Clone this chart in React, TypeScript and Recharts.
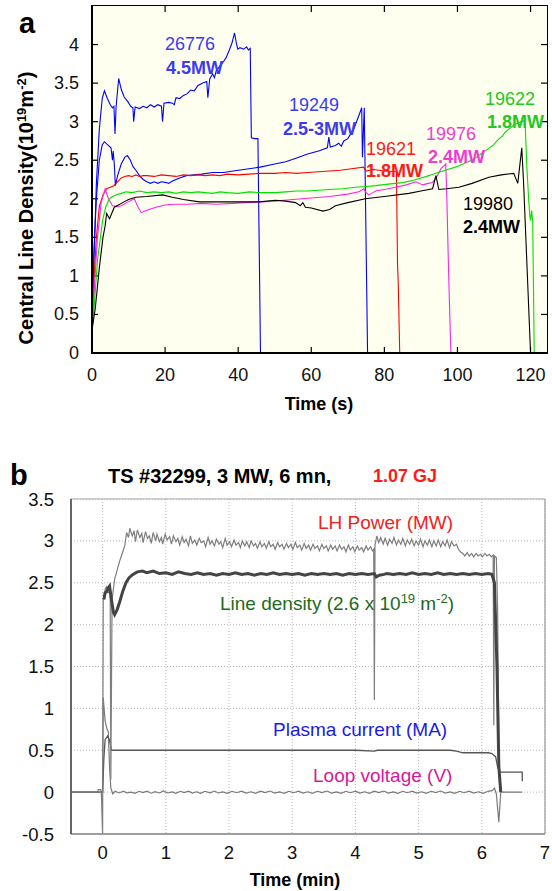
import React from 'react';
import { LineChart, Line, XAxis, YAxis, CartesianGrid, ReferenceLine } from 'recharts';

const FONT = 'Liberation Sans, Arial, Helvetica, sans-serif';

// ---------- Panel a: central line density (10^19 m^-2) vs time (s) ----------
const aXTicks = [0, 20, 40, 60, 80, 100, 120];
const aYTicks = [0, 0.5, 1, 1.5, 2, 2.5, 3, 3.5, 4];
const aXDomain: [number, number] = [0, 124.5];
const aYDomain: [number, number] = [0, 4.5];

const shot26776: [number, number][] = [
  [0, 0.3], [0.4, 1.0], [1.2, 2.2], [2.0, 2.9], [2.8, 3.3], [3.4, 3.4], [4.2, 3.3], [5.0, 3.22], [5.6, 3.18],
  [6.0, 3.2], [6.3, 2.84], [6.6, 3.2], [7.3, 3.56], [8.0, 3.42], [8.8, 3.32], [9.8, 3.26], [10.6, 3.2],
  [11.2, 3.18], [11.4, 3.0], [11.8, 3.19], [13, 3.17], [14, 3.2], [15, 3.18], [16, 3.22], [17, 3.19],
  [18, 3.22], [19, 3.2], [19.3, 3.0], [19.7, 3.24], [21, 3.25], [22, 3.24], [22.5, 3.22], [23, 3.31],
  [24, 3.3], [25, 3.34], [26, 3.36], [27, 3.41], [28, 3.4], [29, 3.47], [30.3, 3.5], [31.4, 3.52],
  [31.7, 3.31], [32.2, 3.55], [33, 3.62], [33.5, 3.57], [34, 3.66], [35, 3.72], [36, 3.78], [36.7, 3.83],
  [37.5, 3.92], [38.3, 4.02], [39, 4.15], [39.5, 4.02], [39.9, 3.94], [40.5, 3.96], [41.5, 3.94],
  [42.3, 3.97], [42.8, 3.93], [43.3, 3.95], [43.6, 2.79], [44.5, 2.78], [45.4, 2.78], [46.1, 0], [75, 0],
];

const shot19249: [number, number][] = [
  [0, 0.2], [0.5, 1.3], [1.2, 2.0], [2.0, 2.5], [2.8, 2.7], [3.4, 2.74], [4.3, 2.7], [5.2, 2.66], [5.6, 2.5],
  [5.8, 2.62], [6.1, 2.45], [6.4, 2.17], [7.0, 2.3], [8.0, 2.45], [9.0, 2.54], [9.7, 2.56], [10.5, 2.5],
  [11.2, 2.42], [12, 2.37], [13, 2.3], [14, 2.25], [15, 2.22], [16, 2.2], [17, 2.22], [18, 2.2], [19, 2.22],
  [20.3, 2.21], [21, 2.2], [22, 2.23], [24, 2.27], [25.8, 2.3], [28, 2.31], [30, 2.32], [33, 2.34],
  [36, 2.34], [40, 2.37], [43, 2.39], [46, 2.41], [50, 2.45], [53, 2.48], [56, 2.53], [59, 2.58],
  [62, 2.62], [64.4, 2.66], [64.8, 2.8], [65.2, 2.67], [66.6, 2.69], [67.5, 2.72], [68.2, 2.68],
  [68.9, 2.75], [70, 2.78], [71.6, 2.9], [72.8, 3.05], [73.8, 3.18], [74.0, 2.54], [74.5, 3.18],
  [75.4, 0], [84, 0],
];

const shot19621: [number, number][] = [
  [0, 0.3], [0.5, 0.9], [1.2, 1.5], [2.0, 1.9], [3.0, 2.05], [4.0, 2.13], [5.0, 2.15], [6.0, 2.17],
  [7.0, 2.22], [8.0, 2.27], [9, 2.29], [10, 2.3], [11, 2.29], [12, 2.31], [13, 2.29], [14, 2.3], [15, 2.3],
  [17, 2.29], [19, 2.31], [21, 2.3], [23, 2.29], [25, 2.31], [27, 2.3], [29, 2.31], [31, 2.3], [33, 2.31],
  [35, 2.3], [37, 2.32], [40, 2.31], [43, 2.32], [46, 2.33], [50, 2.33], [53, 2.34], [56, 2.33],
  [59, 2.34], [62, 2.35], [65, 2.36], [68, 2.37], [71, 2.39], [74.3, 2.41], [75, 2.36], [77, 2.38],
  [80, 2.36], [83.3, 2.35], [83.6, 1.16], [83.8, 0.9], [84.2, 0], [120, 0],
];

const shot19976: [number, number][] = [
  [0, 0.2], [0.7, 0.9], [1.5, 1.5], [2.5, 1.95], [3.6, 2.13], [4.5, 2.0], [5.6, 1.91], [7, 1.9], [8, 1.91],
  [9.5, 1.95], [11.6, 2.0], [12.5, 1.9], [13.5, 1.82], [15, 1.85], [17.5, 1.89], [20, 1.92], [22, 1.93],
  [26, 1.93], [30, 1.94], [34, 1.93], [38.5, 1.94], [42, 1.95], [46, 1.96], [50, 1.97], [55, 1.99],
  [60, 2.01], [65, 2.03], [70, 2.06], [73, 2.09], [74.4, 2.13], [75, 2.08], [75.7, 2.05], [76.5, 2.07],
  [77.6, 2.1], [80, 2.12], [83, 2.15], [86, 2.18], [88.6, 2.22], [90.5, 2.18], [92, 2.2], [93.2, 2.21],
  [94.5, 2.3], [95.5, 2.39], [96.8, 2.45], [97.1, 2.0], [97.6, 1.0], [98.2, 0], [120, 0],
];

const shot19622: [number, number][] = [
  [0, 0.3], [0.6, 0.6], [1.5, 1.2], [2.9, 1.72], [3.8, 1.9], [4.8, 2.0], [5.6, 2.03], [6.6, 2.05], [8, 2.07],
  [9.3, 2.09], [11, 2.08], [13, 2.1], [15, 2.08], [17, 2.09], [19, 2.08], [21, 2.09], [23, 2.07],
  [25, 2.09], [27, 2.08], [29, 2.09], [31, 2.08], [33, 2.07], [35, 2.09], [37, 2.08], [40, 2.07],
  [43, 2.09], [46, 2.08], [50, 2.08], [53, 2.09], [56, 2.1], [59, 2.1], [62, 2.11], [65, 2.12],
  [68.6, 2.13], [72, 2.15], [75, 2.16], [77.6, 2.17], [81, 2.19], [85, 2.21], [88, 2.24], [90, 2.27],
  [92.2, 2.3], [94, 2.33], [96, 2.36], [98, 2.39], [100, 2.42], [101.5, 2.45], [103, 2.48], [105, 2.53],
  [107, 2.6], [108.5, 2.65], [109.7, 2.69], [111, 2.76], [112.4, 2.82], [113, 2.86], [114, 2.9],
  [115, 2.94], [116, 2.97], [117, 2.99], [118, 3.01], [118.5, 3.0], [119, 2.4], [119.5, 1.98],
  [119.8, 1.78], [120, 1.72], [120.3, 1.85], [120.6, 1.7], [121, 0], [124, 0],
];

const shot19980: [number, number][] = [
  [0, 0.3], [0.9, 0.58], [2, 1.1], [3, 1.5], [3.6, 1.65], [4, 1.81], [4.8, 1.74], [6.1, 1.89], [8.4, 1.95],
  [10, 1.99], [12, 2.02], [15, 2.03], [19.3, 2.05], [22, 2.02], [25, 1.99], [29.4, 1.96], [35, 1.96],
  [40, 1.96], [45.8, 1.96], [50.2, 1.98], [53, 1.97], [55.7, 1.95], [57, 1.91], [57.7, 1.95], [58.4, 1.89],
  [60, 1.88], [63.2, 1.84], [65, 1.86], [66.6, 1.91], [70, 1.95], [74.8, 2.0], [80, 2.03], [86.7, 2.07],
  [90, 2.1], [93.2, 2.13], [94.1, 2.3], [94.9, 2.12], [97, 2.13], [100.4, 2.15], [104, 2.2],
  [108.6, 2.28], [112, 2.31], [115.4, 2.33], [116.5, 2.2], [117.6, 2.66], [118.1, 2.2], [120, 0], [124, 0],
];

// ---------- Panel b: TS #32299 traces vs time (min) ----------
const bXTicks = [0, 1, 2, 3, 4, 5, 6, 7];
const bYTicks = [-0.5, 0, 0.5, 1, 1.5, 2, 2.5, 3, 3.5];
const bXDomain: [number, number] = [-0.5, 7];
const bYDomain: [number, number] = [-0.5, 3.5];

const lhPower: [number, number][] = [
  [-0.5, 0], [-0.02, 0], [0, -0.5], [0.01, 2.3], [0.04, 2.42], [0.06, 2.45], [0.09, 2.38], [0.12, 2.4],
  [0.13, 0.15], [0.15, 2.3], [0.19, 2.54], [0.23, 2.65], [0.27, 2.76], [0.31, 2.85], [0.35, 2.94],
  [0.38, 3.1], [0.41, 3.04], [0.43, 3.15], [0.47, 3.06], [0.5, 3.12], [0.52, 2.99], [0.55, 3.13], [0.59, 3.04],
  [0.62, 3.09], [0.64, 2.98], [0.68, 3.11], [0.71, 3.03], [0.74, 3.06], [0.77, 2.97], [0.8, 3.1], [0.84, 3.0],
  [0.86, 3.08], [0.9, 2.99], [0.93, 3.04], [0.95, 2.96], [0.99, 3.08], [1.02, 3.01], [1.06, 3.05],
  [1.09, 2.96], [1.12, 3.06], [1.16, 2.99], [1.19, 3.03], [1.22, 2.95], [1.26, 3.05], [1.29, 2.98],
  [1.32, 3.02], [1.36, 2.94], [1.39, 3.06], [1.42, 2.97], [1.46, 3.01], [1.49, 2.95], [1.53, 3.03],
  [1.56, 2.98], [1.6, 3.0], [1.63, 2.93], [1.67, 3.04], [1.7, 2.96], [1.73, 3.0], [1.77, 2.94],
  [1.8, 3.02], [1.84, 2.96], [1.87, 2.99], [1.9, 2.92], [1.94, 3.03], [1.97, 2.95], [2.01, 2.99],
  [2.04, 2.93], [2.08, 3.01], [2.11, 2.95], [2.15, 2.98], [2.18, 2.92], [2.21, 3.0], [2.25, 2.94],
  [2.28, 2.99], [2.32, 2.92], [2.35, 3.0], [2.39, 2.94], [2.42, 2.97], [2.45, 2.91], [2.49, 2.99],
  [2.52, 2.93], [2.56, 2.97], [2.59, 2.91], [2.63, 2.99], [2.66, 2.93], [2.7, 2.96], [2.73, 2.9],
  [2.77, 2.98], [2.8, 2.93], [2.84, 2.96], [2.87, 2.9], [2.91, 2.97], [2.94, 2.92], [2.98, 2.96],
  [3.01, 2.9], [3.05, 2.98], [3.08, 2.92], [3.12, 2.95], [3.15, 2.89], [3.19, 2.97], [3.22, 2.91],
  [3.26, 2.95], [3.29, 2.89], [3.33, 2.96], [3.36, 2.91], [3.4, 2.94], [3.43, 2.88], [3.47, 2.96],
  [3.5, 2.91], [3.54, 2.94], [3.57, 2.88], [3.61, 2.95], [3.64, 2.9], [3.68, 2.94], [3.71, 2.88],
  [3.75, 2.95], [3.78, 2.9], [3.82, 2.93], [3.85, 2.87], [3.89, 2.95], [3.92, 2.89], [3.96, 2.93],
  [3.99, 2.87], [4.03, 2.94], [4.06, 2.89], [4.1, 2.92], [4.13, 2.87], [4.17, 2.94], [4.2, 2.89],
  [4.24, 2.93], [4.27, 2.88], [4.29, 2.9], [4.3, 1.1], [4.31, 2.95], [4.34, 3.06], [4.37, 2.98],
  [4.4, 3.04], [4.44, 2.96], [4.47, 3.03], [4.51, 2.95], [4.54, 3.02], [4.58, 2.97], [4.61, 3.04],
  [4.65, 2.95], [4.68, 3.01], [4.72, 2.96], [4.75, 3.03], [4.79, 2.94], [4.82, 3.01], [4.86, 2.96],
  [4.89, 3.02], [4.93, 2.94], [4.96, 3.0], [5.0, 2.95], [5.03, 3.02], [5.07, 2.93], [5.1, 3.0],
  [5.14, 2.95], [5.17, 3.01], [5.21, 2.93], [5.24, 3.0], [5.28, 2.94], [5.31, 3.01], [5.35, 2.93],
  [5.38, 2.99], [5.42, 2.94], [5.45, 3.01], [5.49, 2.92], [5.52, 2.99], [5.56, 2.94], [5.6, 2.96],
  [5.63, 2.9], [5.66, 2.87], [5.7, 2.85], [5.73, 2.82], [5.77, 2.86], [5.8, 2.82], [5.84, 2.85],
  [5.87, 2.81], [5.91, 2.85], [5.94, 2.82], [5.98, 2.84], [6.01, 2.81], [6.05, 2.85], [6.08, 2.82],
  [6.12, 2.84], [6.15, 2.81], [6.18, 2.83], [6.19, 0.8], [6.2, 2.82], [6.23, 2.8], [6.25, 2.2],
  [6.27, 0.5], [6.29, 0],
];

const lineDensity: [number, number][] = [
  [0.02, 2.3], [0.04, 2.38], [0.06, 2.39], [0.09, 2.44], [0.11, 2.46], [0.14, 2.3], [0.17, 2.15],
  [0.19, 2.12], [0.23, 2.18], [0.27, 2.27], [0.32, 2.4], [0.37, 2.5], [0.42, 2.56], [0.48, 2.6],
  [0.55, 2.63], [0.63, 2.64], [0.7, 2.62], [0.8, 2.64], [0.9, 2.61], [1.0, 2.62], [1.1, 2.6], [1.2, 2.63],
  [1.3, 2.61], [1.4, 2.6], [1.5, 2.62], [1.6, 2.6], [1.7, 2.61], [1.8, 2.59], [1.9, 2.61], [2.0, 2.6],
  [2.1, 2.62], [2.2, 2.6], [2.3, 2.61], [2.4, 2.59], [2.5, 2.61], [2.6, 2.6], [2.7, 2.62], [2.8, 2.6],
  [2.9, 2.61], [3.0, 2.6], [3.1, 2.61], [3.2, 2.59], [3.3, 2.61], [3.4, 2.6], [3.5, 2.61], [3.6, 2.6],
  [3.7, 2.61], [3.8, 2.59], [3.9, 2.61], [4.0, 2.6], [4.1, 2.61], [4.2, 2.6], [4.3, 2.61], [4.33, 2.57],
  [4.38, 2.59], [4.45, 2.6], [4.5, 2.61], [4.6, 2.6], [4.7, 2.61], [4.8, 2.6], [4.9, 2.62], [5.0, 2.6],
  [5.1, 2.61], [5.2, 2.6], [5.3, 2.62], [5.4, 2.6], [5.5, 2.61], [5.6, 2.6], [5.7, 2.61], [5.8, 2.6],
  [5.9, 2.61], [6.0, 2.6], [6.1, 2.61], [6.16, 2.6], [6.2, 2.5], [6.24, 1.5], [6.27, 0.3], [6.3, 0],
];

const plasmaCurrent: [number, number][] = [
  [-0.5, 0], [0, 0], [0.02, 0.4], [0.04, 0.63], [0.08, 0.67], [0.11, 0.62], [0.14, 0.5], [0.5, 0.5],
  [1, 0.5], [2, 0.5], [3, 0.5], [4, 0.5], [4.3, 0.49], [4.35, 0.5], [5, 0.5], [5.5, 0.5], [5.6, 0.49],
  [5.7, 0.47], [6.1, 0.47], [6.16, 0.46], [6.22, 0.42], [6.25, 0.3], [6.29, 0.24], [6.64, 0.24], [6.64, 0.13],
];

const loopVoltage: [number, number][] = [
  [-0.5, 0], [-0.08, 0], [-0.07, 0.03], [-0.03, 0.03], [-0.02, 0], [0, 0], [0.01, 1.13], [0.04, 0.85],
  [0.07, 0.75], [0.09, 0.72], [0.11, 0.3], [0.13, 0.05], [0.16, -0.02], [0.2, 0.01], [0.26, -0.01],
  [0.33, 0.012], [0.38, -0.008], [0.45, 0.0], [0.51, -0.014], [0.58, 0.01], [0.64, -0.006], [0.7, 0.012],
  [0.77, -0.013], [0.83, 0.006], [0.9, -0.01], [0.96, 0.014], [1.03, -0.01], [1.1, 0.002], [1.16, -0.014],
  [1.23, 0.01], [1.29, -0.006], [1.36, 0.012], [1.42, -0.011], [1.49, 0.004], [1.55, -0.014], [1.62, 0.01],
  [1.7, -0.008], [1.77, 0.013], [1.83, -0.01], [1.9, 0.003], [1.97, -0.015], [2.05, 0.01], [2.12, -0.007],
  [2.2, 0.012], [2.27, -0.012], [2.35, 0.004], [2.42, -0.014], [2.5, 0.011], [2.57, -0.006], [2.65, 0.013],
  [2.72, -0.011], [2.8, 0.003], [2.87, -0.015], [2.95, 0.01], [3.02, -0.007], [3.1, 0.012], [3.17, -0.012],
  [3.25, 0.004], [3.32, -0.014], [3.4, 0.01], [3.47, -0.006], [3.55, 0.013], [3.62, -0.011], [3.7, 0.003],
  [3.77, -0.015], [3.85, 0.01], [3.92, -0.007], [4.0, 0.012], [4.07, -0.012], [4.15, 0.004], [4.22, -0.014],
  [4.3, 0.011], [4.37, -0.006], [4.45, 0.013], [4.52, -0.011], [4.6, 0.003], [4.67, -0.015], [4.75, 0.01],
  [4.82, -0.007], [4.9, 0.012], [4.97, -0.012], [5.05, 0.004], [5.12, -0.014], [5.2, 0.01], [5.27, -0.006],
  [5.35, 0.013], [5.42, -0.011], [5.5, 0.003], [5.57, -0.015], [5.65, 0.01], [5.72, -0.007], [5.8, 0.012],
  [5.87, -0.012], [5.95, 0.004], [6.02, -0.014], [6.1, 0.01], [6.17, 0.02], [6.2, 0.05], [6.23, -0.02],
  [6.27, -0.36], [6.3, 0], [6.64, 0],
];

const toPts = (arr: [number, number][]) => arr.map(([t, v]) => ({ t, v }));

// panel a plot box (page pixels) — used for the background/frame drawn behind the chart
const A_BOX = { left: 92, top: 6, width: 455, height: 347 };
const aPx = (t: number) => A_BOX.left + ((t - aXDomain[0]) / (aXDomain[1] - aXDomain[0])) * A_BOX.width;
const aPy = (v: number) => A_BOX.top + A_BOX.height - ((v - aYDomain[0]) / (aYDomain[1] - aYDomain[0])) * A_BOX.height;

// ---------- tick renderers ----------
const ATickLeft = (p: any) => (
  <text x={p.x - 13} y={p.y} dy={6} textAnchor="end" fontSize={18} fontFamily={FONT} fill="#111">{p.payload.value}</text>
);
const ATickBottom = (p: any) => (
  <text x={p.x} y={p.y + 28} textAnchor="middle" fontSize={18} fontFamily={FONT} fill="#111">{p.payload.value}</text>
);
const BTickLeft = (p: any) => (
  <text x={p.x - 17} y={p.y} dy={6.5} textAnchor="end" fontSize={18.5} fontFamily={FONT} fill="#111">{p.payload.value}</text>
);
const BTickBottom = (p: any) => (
  <text x={p.x} y={p.y + 25} textAnchor="middle" fontSize={18.5} fontFamily={FONT} fill="#111">{p.payload.value}</text>
);

const aSeries = [
  { data: shot26776, color: '#0000ff' },
  { data: shot19249, color: '#0000ff' },
  { data: shot19621, color: '#ff0000' },
  { data: shot19976, color: '#ff22ee' },
  { data: shot19622, color: '#00e000' },
  { data: shot19980, color: '#000000' },
];

const bSeries = [
  { data: loopVoltage, color: '#7a7a7a', w: 1.2 },
  { data: plasmaCurrent, color: '#555555', w: 1.3 },
  { data: lhPower, color: '#7e7e7e', w: 1.2 },
  { data: lineDensity, color: '#444444', w: 3 },
];

export default function App() {
  const [bx0, bx1] = bXDomain;
  const [by0, by1] = bYDomain;
  const aL = A_BOX.left, aT = A_BOX.top, aR = A_BOX.left + A_BOX.width, aB = A_BOX.top + A_BOX.height;
  return (
    <div style={{ position: 'absolute', left: 0, top: 0, width: 552, height: 891, background: '#fff', fontFamily: FONT }}>
      {/* panel a plot background with its black frame */}
      <div style={{
        position: 'absolute', boxSizing: 'border-box', left: aL - 1, top: aT - 1, width: A_BOX.width + 2, height: A_BOX.height + 2,
        background: '#fffff0', borderStyle: 'solid', borderColor: '#000',
        borderLeftWidth: 2, borderBottomWidth: 2, borderTopWidth: 1.5, borderRightWidth: 1.5,
      }} />
      {/* inward tick marks on all four sides of panel a */}
      <svg width={552} height={420} style={{ position: 'absolute', left: 0, top: 0 }}>
        <g stroke="#000" strokeWidth={1.2}>
          {aXTicks.filter((t) => t > aXDomain[0]).map((t) => (
            <g key={'xt' + t}>
              <line x1={aPx(t)} x2={aPx(t)} y1={aB} y2={aB - 6} />
              <line x1={aPx(t)} x2={aPx(t)} y1={aT} y2={aT + 6} />
            </g>
          ))}
          {aYTicks.filter((v) => v > aYDomain[0]).map((v) => (
            <g key={'yt' + v}>
              <line x1={aL} x2={aL + 6} y1={aPy(v)} y2={aPy(v)} />
              <line x1={aR} x2={aR - 6} y1={aPy(v)} y2={aPy(v)} />
            </g>
          ))}
        </g>
      </svg>
      <div style={{ position: 'absolute', left: 0, top: 0 }}>
        <LineChart width={552} height={420} margin={{ top: 6, right: 5, bottom: 37, left: 0 }}>
          <XAxis dataKey="t" type="number" domain={aXDomain} ticks={aXTicks} height={30}
            axisLine={{ stroke: '#000', strokeWidth: 2 }} tickLine={false} tickSize={0} tickMargin={0} tick={ATickBottom} />
          <YAxis type="number" domain={aYDomain} ticks={aYTicks} width={92}
            axisLine={{ stroke: '#000', strokeWidth: 2 }} tickLine={false} tickSize={0} tickMargin={0} tick={ATickLeft} />
          {aSeries.map((s, i) => (
            <Line key={i} data={toPts(s.data)} dataKey="v" type="linear" stroke={s.color} strokeWidth={1.1}
              dot={false} activeDot={false} isAnimationActive={false} />
          ))}
        </LineChart>
      </div>
      <div style={{ position: 'absolute', left: 0, top: 440 }}>
        <LineChart width={552} height={451} margin={{ top: 59, right: 7, bottom: 27, left: 0 }}>
          <CartesianGrid stroke="#b8b8b8" strokeDasharray="1 2" />
          <XAxis dataKey="t" type="number" domain={bXDomain} ticks={bXTicks} height={30}
            axisLine={{ stroke: '#999', strokeWidth: 1.5 }} tickLine={false} tickSize={0} tickMargin={0} tick={BTickBottom} />
          <YAxis type="number" domain={bYDomain} ticks={bYTicks} width={71} allowDataOverflow
            axisLine={{ stroke: '#666', strokeWidth: 2 }} tickLine={false} tickSize={0} tickMargin={0} tick={BTickLeft} />
          <ReferenceLine segment={[{ x: bx0, y: by1 }, { x: bx1, y: by1 }]} stroke="#a8a8a8" strokeWidth={1} ifOverflow="visible" />
          <ReferenceLine segment={[{ x: bx1, y: by0 }, { x: bx1, y: by1 }]} stroke="#999" strokeWidth={1.2} ifOverflow="visible" />
          <ReferenceLine segment={[{ x: bx0, y: by0 }, { x: bx1, y: by0 }]} stroke="#999" strokeWidth={1.5} ifOverflow="visible" />
          <ReferenceLine segment={[{ x: bx0, y: by0 }, { x: bx0, y: by1 }]} stroke="#666" strokeWidth={2} ifOverflow="visible" />
          {bSeries.map((s, i) => (
            <Line key={i} data={toPts(s.data)} dataKey="v" type="linear" stroke={s.color} strokeWidth={s.w}
              dot={false} activeDot={false} isAnimationActive={false} />
          ))}
        </LineChart>
      </div>
      <svg width={552} height={891} style={{ position: 'absolute', left: 0, top: 0, pointerEvents: 'none' }} fontFamily={FONT}>
        {/* panel a */}
        <text x={19} y={33} fontSize={29} fontWeight="bold" fill="#000">a</text>
        <text transform="translate(33,208) rotate(-90)" textAnchor="middle" fontSize={20} fontWeight="bold" fill="#000">
          Central Line Density(10<tspan dy={-7} fontSize={13}>19</tspan><tspan dy={7}>m</tspan><tspan dy={-7} fontSize={13}>-2</tspan><tspan dy={7}>)</tspan>
        </text>
        <text x={319} y={410} textAnchor="middle" fontSize={18} fontWeight="bold" fill="#000">Time (s)</text>
        <text x={165} y={50} fontSize={18} fill="#3b3bf2">26776</text>
        <text x={166} y={74} fontSize={18} fontWeight="bold" fill="#3b3bf2">4.5MW</text>
        <text x={289} y={111} fontSize={18} fill="#3b3bf2">19249</text>
        <text x={283} y={135} fontSize={18} fontWeight="bold" fill="#3b3bf2">2.5-3MW</text>
        <text x={366} y={155} fontSize={18} fill="#ff1a1a">19621</text>
        <text x={366} y={177} fontSize={18} fontWeight="bold" fill="#ff1a1a">1.8MW</text>
        <text x={426} y={140} fontSize={18} fill="#f03cd2">19976</text>
        <text x={428} y={163} fontSize={18} fontWeight="bold" fill="#f03cd2">2.4MW</text>
        <text x={485} y={105} fontSize={18} fill="#22c822">19622</text>
        <text x={487} y={128} fontSize={18} fontWeight="bold" fill="#22c822">1.8MW</text>
        <text x={463} y={210} fontSize={18} fill="#000">19980</text>
        <text x={463} y={233} fontSize={18} fontWeight="bold" fill="#000">2.4MW</text>
        {/* panel b */}
        <text x={10} y={485} fontSize={29} fontWeight="bold" fill="#000">b</text>
        <text x={108} y={483} fontSize={20} fontWeight="bold" fill="#000">TS #32299, 3 MW, 6 mn,</text>
        <text x={373} y={482} fontSize={18} fontWeight="bold" fill="#ff1a1a">1.07 GJ</text>
        <text x={318} y={529} fontSize={19} fill="#f42020">LH Power (MW)</text>
        <text x={220} y={610} fontSize={19} fill="#1d6b1d">
          Line density (2.6 x 10<tspan dy={-7} fontSize={13}>19</tspan><tspan dy={7}> m</tspan><tspan dy={-7} fontSize={13}>-2</tspan><tspan dy={7}>)</tspan>
        </text>
        <text x={273} y={736} fontSize={19} fill="#1a1aee">Plasma current (MA)</text>
        <text x={313} y={782} fontSize={19} fill="#d6189a">Loop voltage (V)</text>
        <text x={295} y={886} textAnchor="middle" fontSize={18} fontWeight="bold" fill="#000">Time (min)</text>
      </svg>
    </div>
  );
}
